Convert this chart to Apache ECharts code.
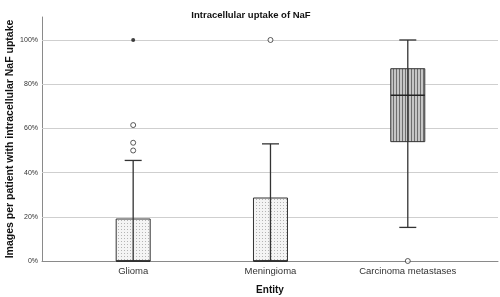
<!DOCTYPE html>
<html lang="en">
<head>
<meta charset="UTF-8">
<title>Intracellular uptake of NaF</title>
<script src="https://cdn.jsdelivr.net/npm/echarts@6/dist/echarts.min.js"></script>
<style>
  html, body { margin: 0; padding: 0; background: #fff; }
  #chart { width: 500px; height: 297px; }
</style>
</head>
<body>
<div id="chart"></div>
<script>
// data (percent)
var categories = ['Glioma', 'Meningioma', 'Carcinoma metastases'];
var whiskerLow = [0, 0, 15.2];
var q1 = [0, 0, 54];
var median = [0, 0, 75];
var q3 = [19, 28.5, 87];
var whiskerHigh = [45.5, 53, 100];
var outliers = [[0, 61.5], [0, 53.5], [0, 50], [1, 100], [2, 0]];
var extremes = [[0, 100]];
var yTicks = [0, 20, 40, 60, 80, 100];

// fill patterns
function dotPattern() {
  var c = document.createElement('canvas');
  c.width = 3; c.height = 3;
  var g = c.getContext('2d');
  g.fillStyle = '#f4f4f4'; g.fillRect(0, 0, 3, 3);
  g.fillStyle = '#b4b4b4'; g.fillRect(1, 1, 1, 1);
  return c;
}
function stripePattern() {
  var c = document.createElement('canvas');
  c.width = 3; c.height = 3;
  var g = c.getContext('2d');
  g.fillStyle = '#c6c6c6'; g.fillRect(0, 0, 3, 3);
  g.fillStyle = '#6e6e6e'; g.fillRect(0, 0, 1, 3);
  return c;
}
var fills = [dotPattern(), dotPattern(), stripePattern()];

var boxData = categories.map(function (c, i) {
  return [i, whiskerLow[i], q1[i], median[i], q3[i], whiskerHigh[i]];
});

function renderBox(params, api) {
  var i = api.value(0);
  var pLow = api.coord([i, api.value(1)]);
  var pQ1 = api.coord([i, api.value(2)]);
  var pMed = api.coord([i, api.value(3)]);
  var pQ3 = api.coord([i, api.value(4)]);
  var pHigh = api.coord([i, api.value(5)]);
  var x = pQ1[0];
  var bw = 34, cw = 17;
  var line = { stroke: '#333', lineWidth: 1.3 };
  return {
    type: 'group',
    children: [
      { type: 'rect', shape: { x: x - bw / 2, y: pQ3[1], width: bw, height: pQ1[1] - pQ3[1] },
        style: { fill: { image: fills[i], repeat: 'repeat' }, stroke: '#333', lineWidth: 1 } },
      { type: 'line', shape: { x1: x, y1: pLow[1], x2: x, y2: pHigh[1] }, style: line },
      { type: 'line', shape: { x1: x - bw / 2, y1: pMed[1], x2: x + bw / 2, y2: pMed[1] }, style: { stroke: '#222', lineWidth: 1.6 } },
      { type: 'line', shape: { x1: x - cw / 2, y1: pHigh[1], x2: x + cw / 2, y2: pHigh[1] }, style: line },
      { type: 'line', shape: { x1: x - cw / 2, y1: pLow[1], x2: x + cw / 2, y2: pLow[1] }, style: line }
    ]
  };
}

var myChart = echarts.init(document.getElementById('chart'));
myChart.setOption({
  animation: false,
  textStyle: { fontFamily: 'Liberation Sans, Arial, sans-serif' },
  title: {
    text: 'Intracellular uptake of NaF',
    left: 246, top: 5, textAlign: 'center',
    textStyle: { fontSize: 9.5, fontWeight: 'bold', color: '#111' }
  },
  grid: { left: 42, right: 2, top: 17, bottom: 36, outerBoundsMode: 'none', containLabel: false },
  xAxis: {
    type: 'value', min: -0.664, max: 2.657,
    name: 'Entity', nameLocation: 'middle', nameGap: 24, nameMoveOverlap: false,
    nameTextStyle: { fontSize: 10, fontWeight: 'bold', color: '#111' },
    axisLine: { show: true, onZero: false, lineStyle: { color: '#8a8a8a' } },
    axisTick: { show: false },
    splitLine: { show: false },
    axisLabel: {
      customValues: [0, 1, 2], fontSize: 9.5, color: '#333', margin: 5,
      formatter: function (v) { return categories[Math.round(v)]; }
    }
  },
  yAxis: {
    type: 'value', min: 0, max: 110.4,
    name: 'Images per patient with intracellular NaF uptake',
    nameLocation: 'middle', nameGap: 26, nameRotate: 90, nameMoveOverlap: false,
    nameTextStyle: { fontSize: 10.5, fontWeight: 'bold', color: '#111' },
    axisLine: { show: true, onZero: false, lineStyle: { color: '#8a8a8a' } },
    axisTick: { show: false },
    splitLine: { show: false },
    axisLabel: {
      customValues: yTicks, fontSize: 7, color: '#333', margin: 4,
      formatter: function (v) { return v + '%'; }
    }
  },
  series: [
    {
      type: 'custom',
      renderItem: renderBox,
      encode: { x: 0, y: [1, 2, 3, 4, 5] },
      data: boxData,
      z: 3
    },
    {
      type: 'scatter', data: outliers, symbol: 'circle', symbolSize: 5, z: 4,
      itemStyle: { color: '#fff', borderColor: '#333', borderWidth: 1 },
      markLine: {
        silent: true, symbol: 'none', label: { show: false },
        lineStyle: { color: '#cfcfcf', type: 'solid', width: 1 },
        data: yTicks.slice(1).map(function (v) { return { yAxis: v }; }),
        z: 1
      }
    },
    {
      type: 'scatter', data: extremes, symbol: 'circle', symbolSize: 4, z: 4,
      itemStyle: { color: '#111' }
    }
  ]
});
</script>
</body>
</html>
